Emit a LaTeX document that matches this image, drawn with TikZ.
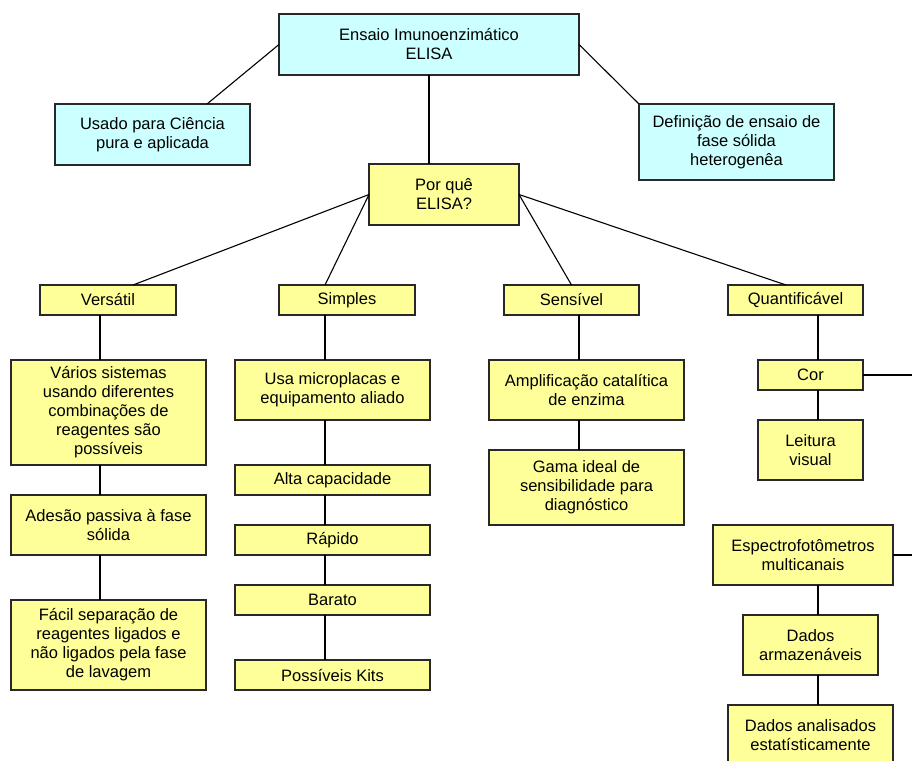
\documentclass[tikz,border=0pt]{standalone}
\usepackage{fontspec}
\setmainfont{Liberation Sans}
\usetikzlibrary{positioning}
\definecolor{rootColor}{RGB}{204,255,255}
\definecolor{itemColor}{RGB}{255,255,153}
\definecolor{edgeColor}{RGB}{40,40,40}
\tikzset{item/.style={fill=itemColor, draw=edgeColor, line width=1.4pt, outer sep=0pt, align=center, inner sep=2pt, font=\fontsize{16.5}{19}\selectfont, minimum width=195pt, minimum height=60pt}}
\tikzset{root/.style={item, fill=rootColor}}
\tikzset{head/.style={item, minimum width=136pt, minimum height=30pt}}
\tikzset{link/.style={draw=black, line width=1.1pt}}

\begin{document}
\begin{tikzpicture}[x=1pt, y=-1pt]
	\useasboundingbox (0,0) rectangle (912,760);
	% Nodes
	\node (elisa) [root, minimum width=300pt, minimum height=61pt] at (429,44.5) {Ensaio Imunoenzimático\\ ELISA};
	\node (usado) [root, minimum height=61pt] at (152.5,134.5) {Usado para Ciência\\ pura e aplicada};
	\node (definicao) [root, minimum height=76pt] at (736.5,142) {Definição de ensaio de\\ fase sólida\\ heterogenêa};
	\node (porque) [item, minimum width=150pt, minimum height=61pt] at (444,194.5) {Por quê\\ ELISA?};

	\node (versatil) [head] at (108,300) {Versátil};
	\node (simples) [head] at (347,300) {Simples};
	\node (sensivel) [head, minimum width=135pt] at (571.5,300) {Sensível};
	\node (quant) [head, minimum width=135pt] at (795.5,300) {Quantificável};

	% Versatil column
	\node (varios) [item, minimum height=105pt] at (108.5,412.5) {Vários sistemas\\ usando diferentes\\ combinações de\\ reagentes são\\ possíveis};
	\node (adesao) [item, below=30pt of varios] {Adesão passiva à fase\\ sólida};
	\node (facil) [item, minimum height=90pt, below=45pt of adesao] {Fácil separação de\\ reagentes ligados e\\ não ligados pela fase\\ de lavagem};

	% Simples column
	\node (usa) [item] at (332.5,390) {Usa microplacas e\\ equipamento aliado};
	\node (alta) [item, minimum height=30pt, below=45pt of usa] {Alta capacidade};
	\node (rapido) [item, minimum height=30pt, below=30pt of alta] {Rápido};
	\node (barato) [item, minimum height=30pt, below=30pt of rapido] {Barato};
	\node (kits) [item, minimum height=30pt, below=45pt of barato] {Possíveis Kits};

	% Sensivel column
	\node (amplif) [item] at (586.5,390) {Amplificação catalítica\\ de enzima};
	\node (gama) [item, minimum height=75pt, below=30pt of amplif] {Gama ideal de\\ sensibilidade para\\ diagnóstico};

	% Quantificavel column
	\node (cor) [item, minimum width=105pt, minimum height=30pt] at (810.5,375) {Cor};
	\node (leitura) [item, minimum width=105pt, below=30pt of cor] {Leitura\\ visual};
	\node (espectro) [item, minimum width=180pt] at (803,555) {Espectrofotômetros\\ multicanais};
	\node (armaz) [item, minimum width=135pt, below=30pt of espectro, xshift=7.5pt] {Dados\\ armazenáveis};
	\node (analis) [item, minimum width=165pt, below=30pt of armaz] {Dados analisados\\ estatísticamente};

	\coordinate (colVersatil) at (100,0);
	\coordinate (colSimples) at (325,0);
	\coordinate (colSensivel) at (579,0);
	\coordinate (colQuant) at (818,0);
	\coordinate (corEnd) at (912,375);
	\coordinate (espectroEnd) at (912,555);

	% Connectors
	\begin{scope}[link]
		\draw (elisa.west) -- ([xshift=54.5pt]usado.north);
		\draw (elisa.east) -- (definicao.north west);
		\draw (elisa.south) -- (elisa.south |- porque.north);

		\draw (porque.west) -- ([xshift=25pt]versatil.north);
		\draw (porque.west) -- ([xshift=-22pt]simples.north);
		\draw (porque.east) -- (sensivel.north);
		\draw (porque.east) -- ([xshift=-9.5pt]quant.north);

		\draw (versatil.south -| colVersatil) -- (varios.north -| colVersatil);
		\draw (varios.south -| colVersatil) -- (adesao.north -| colVersatil);
		\draw (adesao.south -| colVersatil) -- (facil.north -| colVersatil);

		\draw (simples.south -| colSimples) -- (usa.north -| colSimples);
		\draw (usa.south -| colSimples) -- (alta.north -| colSimples);
		\draw (alta.south -| colSimples) -- (rapido.north -| colSimples);
		\draw (rapido.south -| colSimples) -- (barato.north -| colSimples);
		\draw (barato.south -| colSimples) -- (kits.north -| colSimples);

		\draw (sensivel.south -| colSensivel) -- (amplif.north -| colSensivel);
		\draw (amplif.south -| colSensivel) -- (gama.north -| colSensivel);

		\draw (quant.south -| colQuant) -- (cor.north -| colQuant);
		\draw (cor.south -| colQuant) -- (leitura.north -| colQuant);
		\draw (cor.east) -- (corEnd);
		\draw (espectro.east) -- (espectroEnd);
		\draw (espectro.south -| colQuant) -- (armaz.north -| colQuant);
		\draw (armaz.south -| colQuant) -- (analis.north -| colQuant);
	\end{scope}
\end{tikzpicture}
\end{document}
